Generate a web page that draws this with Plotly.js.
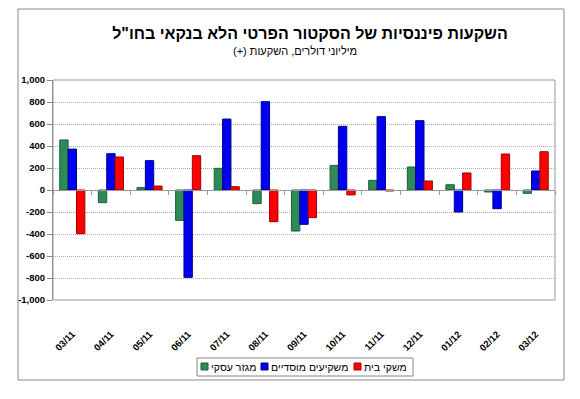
<!DOCTYPE html>
<html>
<head>
<meta charset="utf-8">
<script src="https://cdn.plot.ly/plotly-3.0.1.min.js"></script>
<style>html,body{margin:0;padding:0;background:#fff;}#chart{width:580px;height:399px;}</style>
</head>
<body>
<div id="chart"></div>
<script>
// Data (millions of USD)
const months = ["03/11","04/11","05/11","06/11","07/11","08/11","09/11","10/11","11/11","12/11","01/12","02/12","03/12"];
const business = [455, -115, 22, -276, 197, -124, -373, 224, 88, 209, 48, -18, -30];      // מגזר עסקי
const institutional = [372, 330, 267, -794, 645, 803, -312, 579, 667, 630, -200, -170, 173]; // משקיעים מוסדיים
const households = [-397, 300, 36, 312, 30, -288, -251, -45, -9, 82, 155, 327, 348];      // משקי בית
const seriesNames = ["מגזר עסקי", "משקיעים מוסדיים", "משקי בית"];
const yTickVals = [-1000,-800,-600,-400,-200,0,200,400,600,800,1000];
const yTickText = ["-1,000","-800","-600","-400","-200","0","200","400","600","800","1,000"];

const FONT = "Arial, 'Liberation Sans', 'DejaVu Sans', sans-serif";
const fills = ['#2e8b57', '#0000f0', '#ff0000'];
const edges = ['#1b5e3b', '#00008a', '#a30000'];

const seriesVals = [business, institutional, households];
const data = seriesVals.map((vals, i) => ({
  type: 'bar', name: seriesNames[i], x: months, y: vals,
  marker: {color: fills[i], line: {color: edges[i], width: 1}},
  showlegend: false
}));

// plot area in pixels: x 53..555, y 80..300
const px = x => (x - 53) / 502;
const py = y => (300 - y) / 220;

// compact legend (swatch + label), layout positions only
const legSw = [201, 261, 354];
const legTx = [210, 270, 363];

const annotations = [{
  text: '(+) מיליוני דולרים, השקעות', xref: 'paper', yref: 'paper',
  x: px(295), y: py(51), xanchor: 'center', yanchor: 'middle',
  showarrow: false, font: {family: FONT, size: 11, color: '#000'}
}];
const shapes = [
  {type: 'rect', xref: 'paper', yref: 'paper', x0: 0, x1: 1, y0: 0, y1: 1,
   line: {color: '#999', width: 1}, layer: 'above'},
  {type: 'rect', xref: 'paper', yref: 'paper',
   x0: px(18), x1: px(564), y0: py(380), y1: py(9),
   line: {color: '#888', width: 1}, layer: 'below'},
  {type: 'rect', xref: 'paper', yref: 'paper',
   x0: px(197), x1: px(413), y0: py(376), y1: py(358),
   line: {color: '#888', width: 1}, fillcolor: '#fff', layer: 'below'}
];
seriesNames.forEach((nm, i) => {
  shapes.push({type: 'rect', xref: 'paper', yref: 'paper',
    x0: px(legSw[i]), x1: px(legSw[i] + 7), y0: py(370), y1: py(363),
    line: {color: edges[i], width: 1}, fillcolor: fills[i], layer: 'above'});
  annotations.push({text: nm, xref: 'paper', yref: 'paper',
    x: px(legTx[i]), y: py(367), xanchor: 'left', yanchor: 'middle',
    showarrow: false, borderpad: 0, font: {family: FONT, size: 10.5, color: '#000'}});
});

const layout = {
  width: 580, height: 399,
  margin: {l: 53, r: 25, t: 80, b: 99},
  paper_bgcolor: '#fff', plot_bgcolor: '#fff',
  font: {family: FONT, color: '#000'},
  showlegend: false,
  barmode: 'group', bargap: 0.35, bargroupgap: 0,
  title: {
    text: '<b>השקעות פיננסיות של הסקטור הפרטי הלא בנקאי בחו"ל</b>',
    font: {family: FONT, size: 16, color: '#000'},
    x: px(310), xanchor: 'center', xref: 'paper',
    y: 1 - 33/399, yanchor: 'middle'
  },
  annotations: annotations,
  shapes: shapes,
  xaxis: {
    type: 'category',
    anchor: 'free', position: 0.5,
    showline: true, linecolor: '#999', linewidth: 1,
    ticks: 'outside', tickson: 'boundaries', ticklen: 4, tickcolor: '#999',
    tickangle: -45, ticklabelstandoff: 134,
    tickfont: {family: FONT, size: 9.5, color: '#000', weight: 'bold'},
    showgrid: false, zeroline: false, automargin: false, fixedrange: true
  },
  yaxis: {
    range: [-1000, 1000],
    tickvals: yTickVals, ticktext: yTickText,
    showline: true, linecolor: '#888', linewidth: 1,
    ticks: 'outside', ticklen: 5, tickcolor: '#888',
    tickfont: {family: FONT, size: 9.5, color: '#000', weight: 'bold'},
    showgrid: true, gridcolor: '#aaa', griddash: '1px,1px', gridwidth: 1,
    zeroline: true, zerolinecolor: '#999', zerolinewidth: 1,
    automargin: false, fixedrange: true
  }
};

Plotly.newPlot('chart', data, layout, {displayModeBar: false, staticPlot: true});
</script>
</body>
</html>
